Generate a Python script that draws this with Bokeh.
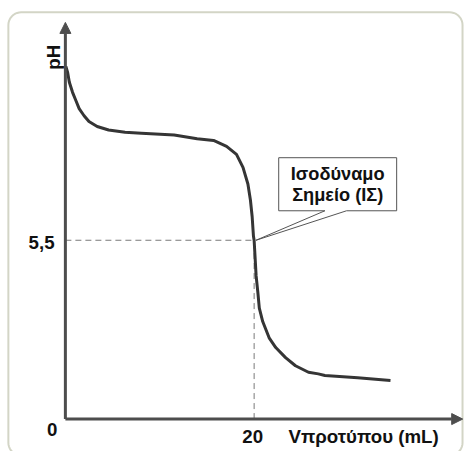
import math
from bokeh.plotting import figure
from bokeh.models import Range1d, Arrow, NormalHead
from bokeh.embed import file_html
from bokeh.resources import INLINE
from bokeh.core.properties import value

# ---- data ----
volume_ml = [0.05, 0.24, 0.42, 0.76, 1.11, 1.46, 1.98, 2.5, 3.37, 4.58, 6.32, 8.05,
             11.53, 13.96, 15.7, 17.08, 18.13, 18.82, 19.34, 19.61, 19.79, 19.93, 20.0,
             20.21, 20.39, 20.55, 20.91, 21.59, 22.29, 23.33, 24.38, 25.76, 26.8, 27.5,
             30.97, 34.45]
ph_values = [10.85, 10.66, 10.36, 10.05, 9.80, 9.55, 9.33, 9.15, 9.0, 8.89, 8.82, 8.79,
             8.74, 8.62, 8.57, 8.39, 8.14, 7.74, 7.23, 6.73, 6.23, 5.62, 5.5,
             4.41, 3.91, 3.41, 3.0, 2.5, 2.2, 1.89, 1.64, 1.44, 1.39, 1.34,
             1.27, 1.19]
eq_volume = 20
eq_ph = 5.5
x_tick_labels = ["0", "20"]
y_tick_label = "5,5"
x_axis_label = "Vπροτύπου (mL)"
y_axis_label = "pH"
callout_lines = ["Ισοδύναμο", "Σημείο (ΙΣ)"]
x_axis_end = 42.1
y_axis_end = 12.2

# ---- layout (reference pixels scaled to fit the window) ----
W, H = 464, 451
S = W / 472.0
REF_W, REF_H = 472, 459
PX_ML = 9.6      # reference px per mL
PX_PH = 33.09    # reference px per pH unit
OX, OY = 66, 426 # reference px of the origin

def dx(ref_x):
    return (ref_x - OX) / PX_ML

def dy(ref_y):
    return (OY - ref_y) / PX_PH

def fs(px):
    return "%.1fpx" % (px * S)

p = figure(width=W, height=H,
           x_range=Range1d(dx(0), dx(REF_W)),
           y_range=Range1d(dy(REF_H), dy(0)),
           output_backend="svg", toolbar_location=None,
           x_axis_location=None, y_axis_location=None,
           min_border=0, outline_line_color=None,
           background_fill_color="white", border_fill_color="white")
p.grid.visible = False

# rounded frame (drawn as a path in reference pixels)
L, T, R, B, RAD = 8, 12, 470, 463, 13
bx, by = [], []
corners = [(R - RAD, T + RAD, -90, 0), (R - RAD, B - RAD, 0, 90),
           (L + RAD, B - RAD, 90, 180), (L + RAD, T + RAD, 180, 270)]
for cxp, cyp, a0, a1 in corners:
    for k in range(0, 11):
        a = math.radians(a0 + (a1 - a0) * k / 10)
        bx.append(dx(cxp + RAD * math.cos(a)))
        by.append(dy(cyp + RAD * math.sin(a)))
bx.append(bx[0]); by.append(by[0])
p.line(bx, by, line_color="#d3d5c6", line_width=2)

# dashed guides
p.line([0, eq_volume], [eq_ph, eq_ph], line_color="#7a7a7a", line_width=1, line_dash="6 4")
p.line([eq_volume, eq_volume], [0, eq_ph], line_color="#7a7a7a", line_width=1, line_dash="6 4")

# axes with arrows
axis_col = "#4d4d4d"
p.add_layout(Arrow(end=NormalHead(size=11, fill_color=axis_col, line_color=axis_col),
                   x_start=0, y_start=0, x_end=x_axis_end, y_end=0,
                   line_color=axis_col, line_width=3))
p.add_layout(Arrow(end=NormalHead(size=11, fill_color=axis_col, line_color=axis_col),
                   x_start=0, y_start=0, x_end=0, y_end=y_axis_end,
                   line_color=axis_col, line_width=3))

# titration curve
p.line(volume_ml, ph_values, line_color="#353535", line_width=3, line_join="round")

# callout
bx0, bx1, by0, by1 = dx(283), dx(403), dy(160), dy(214)
p.patch([bx0, bx1, bx1, dx(352), eq_volume + 0.2, dx(330), bx0],
        [by0, by0, by1, by1, eq_ph, by1, by1],
        fill_color="white", line_color="#555555", line_width=1)

font = value("Liberation Sans")
cx = (bx0 + bx1) / 2
p.text(x=[cx, cx], y=[dy(177), dy(198)], text=callout_lines,
       text_font=font, text_font_style="bold", text_font_size=fs(18.5),
       text_color="#111111", text_align="center", text_baseline="middle")

# tick labels
AX_FS = fs(19)
p.text(x=[0], y=[0], text=[x_tick_labels[0]], x_offset=-13.5 * S, y_offset=10.5 * S,
       text_font=font, text_font_style="bold", text_font_size=AX_FS,
       text_color="#111111", text_align="center", text_baseline="middle")
p.text(x=[eq_volume], y=[0], text=[x_tick_labels[1]], x_offset=-1.5 * S, y_offset=18 * S,
       text_font=font, text_font_style="bold", text_font_size=AX_FS,
       text_color="#111111", text_align="center", text_baseline="middle")
p.text(x=[0], y=[eq_ph], text=[y_tick_label], x_offset=-11 * S, y_offset=2 * S,
       text_font=font, text_font_style="bold", text_font_size=AX_FS,
       text_color="#111111", text_align="right", text_baseline="middle")

# axis labels
p.text(x=[eq_volume], y=[0], text=[x_axis_label], x_offset=35 * S, y_offset=18 * S,
       text_font=font, text_font_style="bold", text_font_size=AX_FS,
       text_color="#111111", text_align="left", text_baseline="middle")
p.text(x=[0], y=[y_axis_end], text=[y_axis_label], x_offset=-12.5 * S, y_offset=35.5 * S,
       angle=math.pi / 2,
       text_font=font, text_font_style="bold", text_font_size=AX_FS,
       text_color="#111111", text_align="center", text_baseline="middle")

open("out.html", "w").write(file_html(p, INLINE))
